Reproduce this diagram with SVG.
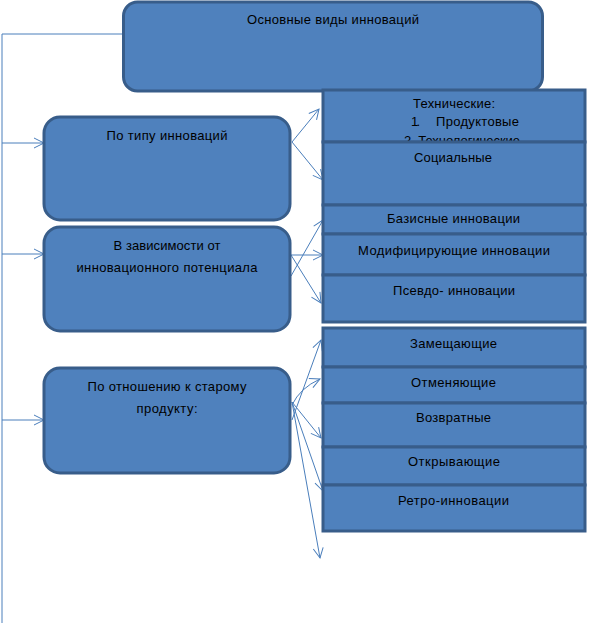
<svg xmlns="http://www.w3.org/2000/svg" width="589" height="623" viewBox="0 0 589 623">
<defs>
<style>
.n{fill:#4f81bd;stroke:#385d8a;stroke-width:3}
.t{font-family:"Liberation Sans",Arial,sans-serif;font-size:13px;fill:#000;text-anchor:middle}
.c{fill:none;stroke:#4a7ebb;stroke-width:1}
</style>
<marker id="a" markerUnits="userSpaceOnUse" markerWidth="14" markerHeight="14" refX="11" refY="6" orient="auto">
<path d="M1,1 L11,6 L1,11" fill="none" stroke="#4a7ebb" stroke-width="1"/>
</marker>
</defs>
<g id="connectors">
<polyline class="c" points="123,34 2,34 2,623"/>
<line class="c" x1="2" y1="143" x2="44" y2="143" marker-end="url(#a)"/>
<line class="c" x1="2" y1="254" x2="44" y2="254" marker-end="url(#a)"/>
<line class="c" x1="2" y1="420" x2="44" y2="420" marker-end="url(#a)"/>
<line class="c" x1="292" y1="142" x2="319" y2="109" marker-end="url(#a)"/>
<line class="c" x1="292" y1="142" x2="323" y2="180" marker-end="url(#a)"/>
<line class="c" x1="291" y1="276" x2="323" y2="220" marker-end="url(#a)"/>
<line class="c" x1="291" y1="255" x2="323" y2="255" marker-end="url(#a)"/>
<line class="c" x1="291" y1="255" x2="321" y2="303" marker-end="url(#a)"/>
<line class="c" x1="292" y1="420" x2="321" y2="340" marker-end="url(#a)"/>
<path class="c" d="M292,405 Q300,388 320,379" marker-end="url(#a)"/>
<line class="c" x1="292" y1="402" x2="321" y2="438" marker-end="url(#a)"/>
<line class="c" x1="292" y1="402" x2="323" y2="491" marker-end="url(#a)"/>
<line class="c" x1="292" y1="402" x2="320" y2="558" marker-end="url(#a)"/>
</g>
<g id="main">
<rect class="n" x="123.5" y="2" width="419" height="89" rx="14"/>
<text class="t" x="333" y="24" textLength="172">Основные виды инноваций</text>
</g>
<g id="type">
<rect class="n" x="44" y="117" width="246" height="103" rx="16"/>
<text class="t" x="167" y="140" textLength="121">По типу инноваций</text>
</g>
<g id="potential">
<rect class="n" x="44" y="227" width="246" height="104" rx="16"/>
<text class="t" x="167" y="250" textLength="107">В зависимости от</text>
<text class="t" x="167" y="272" textLength="181">инновационного потенциала</text>
</g>
<g id="old-product">
<rect class="n" x="44" y="368" width="246" height="105" rx="16"/>
<text class="t" x="167" y="391" textLength="159">По отношению к старому</text>
<text class="t" x="167" y="413" textLength="61">продукту:</text>
</g>
<g id="technical">
<rect class="n" x="323" y="90" width="262" height="52"/>
<text class="t" x="454" y="108" textLength="82">Технические:</text>
<text class="t" x="415.5" y="126" textLength="9">1.</text>
<text class="t" x="477.5" y="126" textLength="83">Продуктовые</text>
<text class="t" x="462" y="145" textLength="116">2. Технологические</text>
</g>
<g id="social">
<rect class="n" x="323" y="142" width="262" height="63"/>
<text class="t" x="453" y="162" textLength="78">Социальные</text>
</g>
<g id="basic">
<rect class="n" x="323" y="205" width="262" height="29"/>
<text class="t" x="453.5" y="223" textLength="133">Базисные инновации</text>
</g>
<g id="modifying">
<rect class="n" x="323" y="234" width="262" height="41"/>
<text class="t" x="454" y="255" textLength="192">Модифицирующие инновации</text>
</g>
<g id="pseudo">
<rect class="n" x="323" y="275" width="262" height="47"/>
<text class="t" x="454" y="295" textLength="122">Псевдо- инновации</text>
</g>
<g id="replacing">
<rect class="n" x="323" y="328" width="262" height="39"/>
<text class="t" x="453.5" y="348" textLength="87">Замещающие</text>
</g>
<g id="cancelling">
<rect class="n" x="323" y="367" width="262" height="36"/>
<text class="t" x="453.5" y="387" textLength="85">Отменяющие</text>
</g>
<g id="returning">
<rect class="n" x="323" y="403" width="262" height="44"/>
<text class="t" x="453.5" y="422" textLength="75">Возвратные</text>
</g>
<g id="opening">
<rect class="n" x="323" y="447" width="262" height="38"/>
<text class="t" x="454" y="466" textLength="92">Открывающие</text>
</g>
<g id="retro">
<rect class="n" x="323" y="485" width="262" height="46"/>
<text class="t" x="453.5" y="505" textLength="111">Ретро-инновации</text>
</g>
</svg>
